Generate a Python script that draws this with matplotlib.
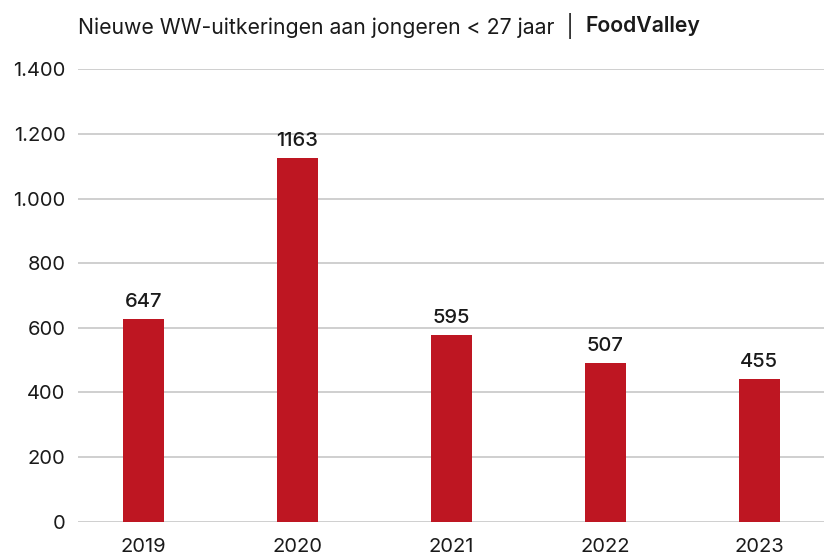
import numpy as np
import matplotlib.pyplot as plt

# Data
years = ['2019', '2020', '2021', '2022', '2023']
bar_heights = [627, 1126, 578, 492, 442]      # heights as drawn in the picture
bar_labels = ['647', '1163', '595', '507', '455']  # numbers printed above the bars
y_ticks = [0, 200, 400, 600, 800, 1000, 1200, 1400]
y_tick_labels = ['0', '200', '400', '600', '800', '1.000', '1.200', '1.400']

title_main = 'Nieuwe WW-uitkeringen aan jongeren < 27 jaar  |  '
title_region = 'FoodValley'

plt.rcParams['font.family'] = ['Inter', 'DejaVu Sans']
red = '#BE1622'
txt = '#1a1a1a'
fs = 14.5

fig = plt.figure(figsize=(8.24, 5.56), dpi=100)
ax = fig.add_axes([78 / 824, 1 - 521.7 / 556, 1 - 78 / 824, (521.7 - 69.3) / 556])

x = np.arange(len(years))
bars = ax.bar(x, bar_heights, width=0.266, color=red, zorder=3)

# labels boven de staven
for b, lab in zip(bars, bar_labels):
    ax.annotate(lab, (b.get_x() + b.get_width() / 2, b.get_height()),
                xytext=(0, 5.5), textcoords='offset points',
                ha='center', va='bottom', fontsize=fs, fontweight='medium',
                color=txt)

ax.set_xlim(-0.425, 4.42)
ax.set_ylim(0, 1400)
ax.set_xticks(x)
ax.set_xticklabels(years)
ax.set_yticks(y_ticks)
ax.set_yticklabels(y_tick_labels)
ax.tick_params(axis='both', length=0, labelsize=fs, colors=txt)
ax.tick_params(axis='y', pad=9)
ax.tick_params(axis='x', pad=12)
ax.grid(axis='y', color='#cccccc', linewidth=1.3, zorder=0)
for s in ax.spines.values():
    s.set_visible(False)

# titel in twee delen
t1 = fig.text(78 / 824, 1 - 26 / 556, title_main, fontsize=15.3, color=txt,
              ha='left', va='center')
fig.canvas.draw()
bb = t1.get_window_extent(renderer=fig.canvas.get_renderer())
fig.text(bb.x1 / fig.bbox.width, 1 - 26 / 556, title_region, fontsize=15.3,
         fontweight='semibold', color=txt, ha='left', va='center')

plt.savefig('out.png', dpi=100)
